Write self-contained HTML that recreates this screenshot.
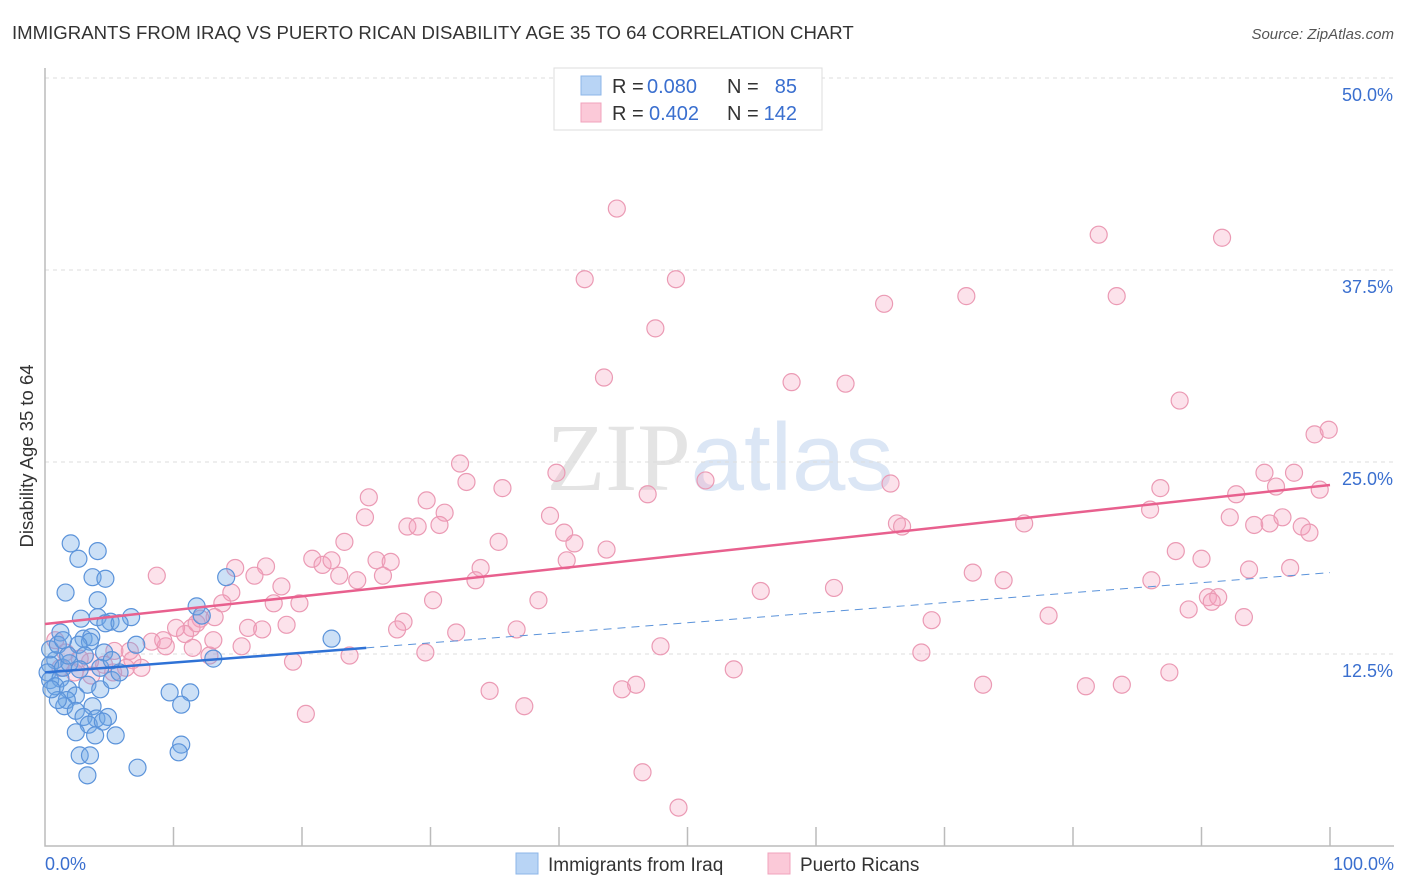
<!DOCTYPE html>
<html><head><meta charset="utf-8"><style>
body{margin:0;background:#fff;font-family:"Liberation Sans",sans-serif}
svg{display:block}
</style></head><body>
<svg id="c" width="1406" height="892" xmlns="http://www.w3.org/2000/svg">
<text x="12" y="39" font-size="18.6" fill="#333">IMMIGRANTS FROM IRAQ VS PUERTO RICAN DISABILITY AGE 35 TO 64 CORRELATION CHART</text>
<text x="1394" y="39" font-size="15" fill="#555" text-anchor="end" font-style="italic">Source: ZipAtlas.com</text>
<text x="720" y="490" font-size="96" fill="#e4e4e4" text-anchor="middle" font-family="Liberation Serif">ZIP<tspan fill="#dbe6f5" font-family="Liberation Sans">atlas</tspan></text>
<text transform="translate(33,456) rotate(-90)" font-size="18.5" fill="#333" text-anchor="middle">Disability Age 35 to 64</text>
<g id="grid"></g><g id="pts"></g><g id="lines"></g>
<g>
<rect x="554" y="68" width="268" height="62" fill="#fff" stroke="#ddd"/>
<rect x="581" y="76" width="20" height="19" fill="#b8d4f5" stroke="#8cb6e8"/>
<rect x="581" y="103" width="20" height="19" fill="#fbc9d8" stroke="#f0a3bc"/>
<text x="612" y="93" font-size="20" fill="#333">R =</text>
<text x="647" y="93" font-size="20" fill="#3a6fcf">0.080</text>
<text x="727" y="93" font-size="20" fill="#333">N =</text>
<text x="797" y="93" font-size="20" fill="#3a6fcf" text-anchor="end">85</text>
<text x="612" y="120" font-size="20" fill="#333">R =</text>
<text x="649" y="120" font-size="20" fill="#3a6fcf">0.402</text>
<text x="727" y="120" font-size="20" fill="#333">N =</text>
<text x="797" y="120" font-size="20" fill="#3a6fcf" text-anchor="end">142</text>
</g>
<g>
<rect x="516" y="853" width="22" height="21" fill="#b8d4f5" stroke="#8cb6e8"/>
<text x="548" y="871" font-size="19" fill="#333">Immigrants from Iraq</text>
<rect x="768" y="853" width="22" height="21" fill="#fbc9d8" stroke="#f0a3bc"/>
<text x="800" y="871" font-size="19" fill="#333">Puerto Ricans</text>
</g>
<text x="45" y="870" font-size="18" fill="#3a6fcf">0.0%</text>
<text x="1394" y="870" font-size="18" fill="#3a6fcf" text-anchor="end">100.0%</text>
</svg>
<script>
const yTicks=[12.5,25,37.5,50];
const yTickLabels=["12.5%","25.0%","37.5%","50.0%"];
const xTicks=[10,20,30,40,50,60,70,80,90,100];
const blueX=[2.0,2.6,4.1,3.7,4.7,1.6,4.1,2.8,4.1,5.1,6.7,4.7,5.8,1.2,3.0,3.6,3.5,2.6,7.1,11.8,14.1,12.2,22.3,13.1,4.6,3.1,0.8,0.4,0.2,0.4,1.2,1.4,1.9,0.8,1.8,2.4,3.3,4.3,5.2,4.3,5.8,1.7,1.5,2.4,3.7,3.0,4.0,4.9,3.4,4.5,2.4,3.9,5.5,2.7,3.5,3.3,7.2,9.7,11.3,10.6,10.6,10.4,0.4,1.0,1.8,1.0,0.5,2.7,1.4,5.2];
const blueY=[19.7,18.7,19.2,17.5,17.4,16.5,16.0,14.8,14.9,14.6,14.9,14.5,14.5,13.9,13.5,13.6,13.3,13.1,13.1,15.6,17.5,15.0,13.5,12.2,12.6,12.4,12.1,11.8,11.3,10.8,10.9,11.6,11.9,10.4,10.2,9.8,10.5,10.2,10.8,11.6,11.3,9.5,9.1,8.8,9.1,8.4,8.3,8.4,7.9,8.1,7.4,7.2,7.2,5.9,5.9,4.6,5.1,10.0,10.0,9.2,6.6,6.1,12.8,13.1,12.4,9.5,10.2,11.5,13.4,12.1];
const pinkX=[44.5,42.0,49.1,47.5,43.5,58.1,62.3,65.3,71.7,82.0,83.4,91.6,88.3,98.8,99.9,32.3,32.8,35.6,39.8,46.9,51.4,65.8,94.9,97.2,95.8,99.2,86.8,92.7,86.0,92.2,94.1,95.3,96.3,97.8,98.4,76.2,66.3,66.7,39.3,40.4,41.2,43.7,35.3,31.1,30.7,29.7,28.2,29.0,25.2,24.9,23.3,20.8,21.6,22.3,22.9,24.3,25.8,26.9,26.3,33.5,33.9,40.6,88.0,90.0,93.7,96.9,72.2,74.6,86.1,90.5,91.3,90.8,89.0,93.3,78.1,69.0,68.2,61.4,55.7,38.4,30.2,27.9,27.4,32.0,36.7,47.9,29.6,23.7,19.3,53.6,73.0,81.0,83.8,87.5,46.0,44.9,34.6,37.3,20.3,46.5,49.3,8.7,14.8,17.2,18.4,16.3,14.5,13.8,19.8,17.8,15.8,16.9,18.8,13.2,12.1,11.4,10.9,10.2,11.8,9.4,8.3,9.2,11.5,12.8,15.3,13.1,6.6,6.8,5.4,6.3,7.5,5.3,4.6,3.5,2.7,1.6,0.8,1.2,2.3,3.6];
const pinkY=[41.5,36.9,36.9,33.7,30.5,30.2,30.1,35.3,35.8,39.8,35.8,39.6,29.0,26.8,27.1,24.9,23.7,23.3,24.3,22.9,23.8,23.6,24.3,24.3,23.4,23.2,23.3,22.9,21.9,21.4,20.9,21.0,21.4,20.8,20.4,21.0,21.0,20.8,21.5,20.4,19.7,19.3,19.8,21.7,20.9,22.5,20.8,20.8,22.7,21.4,19.8,18.7,18.3,18.6,17.6,17.3,18.6,18.5,17.6,17.3,18.1,18.6,19.2,18.7,18.0,18.1,17.8,17.3,17.3,16.2,16.2,15.9,15.4,14.9,15.0,14.7,12.6,16.8,16.6,16.0,16.0,14.6,14.1,13.9,14.1,13.0,12.6,12.4,12.0,11.5,10.5,10.4,10.5,11.3,10.5,10.2,10.1,9.1,8.6,4.8,2.5,17.6,18.1,18.2,16.9,17.6,16.5,15.8,15.8,15.8,14.2,14.1,14.4,14.9,14.8,14.2,13.8,14.2,14.5,13.0,13.3,13.4,12.9,12.4,13.0,13.4,12.7,12.1,12.7,11.6,11.6,11.3,11.8,12.0,12.2,12.6,13.4,11.6,11.3,11.1];
const blueTrend=[[0,11.3],[25,12.9],[100,17.8]];
const pinkTrend=[[0,14.45],[100,23.5]];
const X=v=>45+v*12.85, Y=v=>846-v*15.36;
const NS="http://www.w3.org/2000/svg";
function mk(t,a,p){const e=document.createElementNS(NS,t);for(const k in a)e.setAttribute(k,a[k]);p.appendChild(e);return e;}
const grid=document.getElementById('grid'),pts=document.getElementById('pts'),lines=document.getElementById('lines');
yTicks.forEach((t,i)=>{
 const l=mk('line',{x1:45,x2:1394,y1:Y(t),y2:Y(t),stroke:'#ddd','stroke-dasharray':'4,4'},grid);
 
 
 const tx=mk('text',{x:1393,y:Y(t)+23,'font-size':18,fill:'#3a6fcf','text-anchor':'end'},grid);
 tx.textContent=yTickLabels[i];
 
 
});
const ax=mk('path',{d:`M45,68 V846 H1394`,fill:'none',stroke:'#bbb','stroke-width':1.5},grid);


xTicks.forEach(t=>{
 const l=mk('line',{x1:X(t),x2:X(t),y1:827,y2:846,stroke:'#bbb','stroke-width':1.5},grid);
 
 
});
pinkX.forEach((x,i)=>{
 const c=mk('circle',{cx:X(x),cy:Y(pinkY[i]),r:8.5,fill:'rgba(244,160,188,0.3)',stroke:'#eb9ab4','stroke-width':1.2},pts);
 
 
});
blueX.forEach((x,i)=>{
 const c=mk('circle',{cx:X(x),cy:Y(blueY[i]),r:8.5,fill:'rgba(110,165,230,0.35)',stroke:'#5b93da','stroke-width':1.2},pts);
 
 
});
const p=mk('line',{x1:X(pinkTrend[0][0]),y1:Y(pinkTrend[0][1]),x2:X(pinkTrend[1][0]),y2:Y(pinkTrend[1][1]),stroke:'#e8608e','stroke-width':2.5},lines);


const b=mk('line',{x1:X(blueTrend[0][0]),y1:Y(blueTrend[0][1]),x2:X(blueTrend[1][0]),y2:Y(blueTrend[1][1]),stroke:'#2f72d6','stroke-width':2.5},lines);


const bd=mk('line',{x1:X(blueTrend[1][0]),y1:Y(blueTrend[1][1]),x2:X(blueTrend[2][0]),y2:Y(blueTrend[2][1]),stroke:'#5b93da','stroke-width':1,'stroke-dasharray':'8,6'},lines);


</script>
</body></html>
